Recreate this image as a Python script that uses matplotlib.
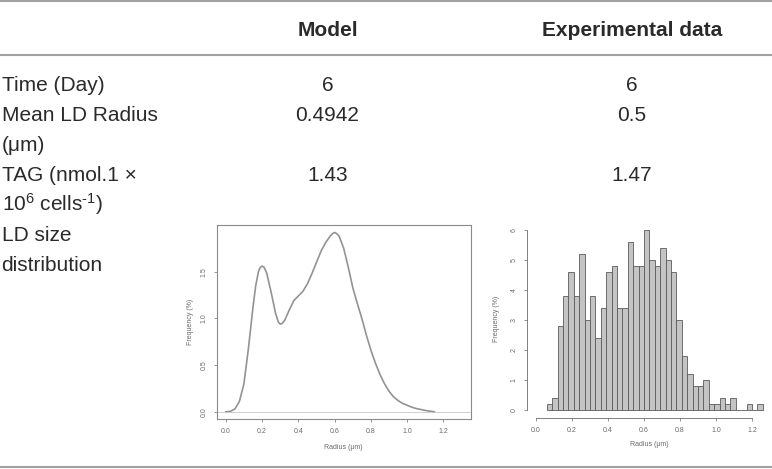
import numpy as np
import matplotlib
matplotlib.use("Agg")
import matplotlib.pyplot as plt

plt.rcParams['font.family'] = ['Liberation Sans', 'DejaVu Sans']
plt.rcParams['mathtext.fontset'] = 'custom'
plt.rcParams['mathtext.rm'] = 'Liberation Sans'
plt.rcParams['mathtext.it'] = 'Liberation Sans:italic'

W, H = 772, 469

# table content
col_headers = ["Model", "Experimental data"]
row_labels = ["Time (Day)", "Mean LD Radius\n(μm)", "TAG (nmol.1 ×\n10$^{6}$ cells$^{\\text{-}1}$)", "LD size\ndistribution"]
model_values = ["6", "0.4942", "1.43"]
exp_values = ["6", "0.5", "1.47"]

# model: simulated LD radius density
model_radius = [0.0, 0.025, 0.05, 0.075, 0.10, 0.125, 0.15, 0.165, 0.18, 0.19, 0.20,
                0.21, 0.225, 0.25, 0.275, 0.29, 0.30, 0.31, 0.325, 0.35, 0.375,
                0.40, 0.425, 0.45, 0.475, 0.50, 0.525, 0.55, 0.575, 0.59, 0.60,
                0.61, 0.625, 0.65, 0.675, 0.70, 0.725, 0.75, 0.775, 0.80, 0.825,
                0.85, 0.875, 0.90, 0.925, 0.95, 0.975, 1.00, 1.025, 1.05, 1.075,
                1.10, 1.125, 1.15]
model_density = [0.0, 0.005, 0.03, 0.11, 0.30, 0.68, 1.12, 1.35, 1.50, 1.545, 1.56,
                 1.55, 1.49, 1.28, 1.05, 0.96, 0.94, 0.945, 0.98, 1.09, 1.19,
                 1.24, 1.29, 1.37, 1.48, 1.60, 1.72, 1.81, 1.88, 1.91, 1.92,
                 1.91, 1.88, 1.75, 1.55, 1.33, 1.16, 1.00, 0.82, 0.66, 0.52,
                 0.40, 0.30, 0.22, 0.16, 0.12, 0.09, 0.07, 0.05, 0.035, 0.025,
                 0.015, 0.007, 0.0]

# experimental histogram (bins of 0.03 um, percent)
bin_edges = np.linspace(0.06, 1.26, 41)
exp_percent = [0.2, 0.4, 2.8, 3.8, 4.6, 3.8, 5.2, 3.0, 3.8, 2.4,
               3.4, 4.6, 4.8, 3.4, 3.4, 5.6, 4.8, 4.8, 6.0, 5.0,
               4.8, 5.4, 5.0, 4.6, 3.0, 1.8, 1.2, 0.8, 0.8, 1.0,
               0.2, 0.2, 0.4, 0.2, 0.4, 0.0, 0.0, 0.2, 0.0, 0.2]

x_ticks = [0.0, 0.2, 0.4, 0.6, 0.8, 1.0, 1.2]
model_yticks = [0.0, 0.5, 1.0, 1.5]
exp_yticks = [0, 1, 2, 3, 4, 5, 6]


def fx(x):
    return x / W


def fy(y):
    return 1 - y / H


fig = plt.figure(figsize=(W / 100, H / 100), dpi=100)
fig.patch.set_facecolor('white')

text_color = '#2a2a2a'
rule_color = '#a0a0a0'
fs = 15

# horizontal rules
for yy in [1, 55, 466.5]:
    fig.add_artist(plt.Line2D([0, 1], [fy(yy), fy(yy)], color=rule_color, lw=1.5,
                              transform=fig.transFigure))

# headers
col_x = [327.5, 632]
for cx, h in zip(col_x, col_headers):
    fig.text(fx(cx), fy(36), h, ha='center', va='baseline', fontsize=fs,
             fontweight='bold', color=text_color)

# row labels, each line on its own baseline
baselines = [91, 121, 151, 181, 211, 241, 271]
lines = []
for lab in row_labels:
    lines.extend(lab.split("\n"))
for b, ln in zip(baselines, lines):
    fig.text(fx(1.5), fy(b), ln, ha='left', va='baseline', fontsize=fs, color=text_color)

value_baselines = [91, 121, 181]
for b, mv, ev in zip(value_baselines, model_values, exp_values):
    fig.text(fx(col_x[0]), fy(b), mv, ha='center', va='baseline', fontsize=fs, color=text_color)
    fig.text(fx(col_x[1]), fy(b), ev, ha='center', va='baseline', fontsize=fs, color=text_color)

small = 5
tick_color = '#6a6a6a'

# --- model density plot (R style, boxed) ---
ax1 = fig.add_axes([fx(216.7), fy(419.3), (470.7 - 216.7) / W, (419.3 - 225) / H])
ax1.plot(model_radius, model_density, color='#939393', lw=1.2)
ax1.axhline(0, color='#c8c8c8', lw=0.6)
ax1.set_xlim(-0.05, 1.35)
ax1.set_ylim(-0.08, 2.0)
ax1.set_xticks(x_ticks)
ax1.set_xticklabels([f"{t:.1f}" for t in x_ticks])
ax1.set_yticks(model_yticks)
ax1.set_yticklabels([f"{t:.1f}" for t in model_yticks], rotation=90, va='center')
for sp in ax1.spines.values():
    sp.set_color('#8a8a8a')
    sp.set_linewidth(0.8)
ax1.tick_params(direction='out', length=2.5, width=0.5, colors=tick_color,
                labelsize=small, pad=4)
ax1.set_xlabel("Radius (μm)", fontsize=small, color=tick_color, labelpad=6)
ax1.set_ylabel("Frequency (%)", fontsize=small, color=tick_color, labelpad=5)

# --- experimental histogram (R hist style, no box) ---
ax2 = fig.add_axes([fx(526.7), fy(418.3), (772 - 526.7) / W, (418.3 - 220) / H])
ax2.bar(bin_edges[:-1], exp_percent, width=np.diff(bin_edges), align='edge',
        color='#c4c4c4', edgecolor='#5a5a5a', linewidth=0.6)
ax2.set_xlim(-0.052, 1.311)
ax2.set_ylim(-0.278, 6.35)
for side in ['top', 'right']:
    ax2.spines[side].set_visible(False)
ax2.spines['left'].set_bounds(0, 6)
ax2.spines['bottom'].set_bounds(0, 1.2)
for side in ['left', 'bottom']:
    ax2.spines[side].set_color('#6a6a6a')
    ax2.spines[side].set_linewidth(0.6)
ax2.set_xticks(x_ticks)
ax2.set_xticklabels([f"{t:.1f}" for t in x_ticks])
ax2.set_yticks(exp_yticks)
ax2.set_yticklabels([str(t) for t in exp_yticks], rotation=90, va='center')
ax2.tick_params(direction='out', length=2.5, width=0.5, colors=tick_color,
                labelsize=small, pad=4)
ax2.set_xlabel("Radius (μm)", fontsize=small, color=tick_color, labelpad=5)
ax2.set_ylabel("Frequency (%)", fontsize=small, color=tick_color, labelpad=8)

fig.savefig("out.png", dpi=100, facecolor='white')
